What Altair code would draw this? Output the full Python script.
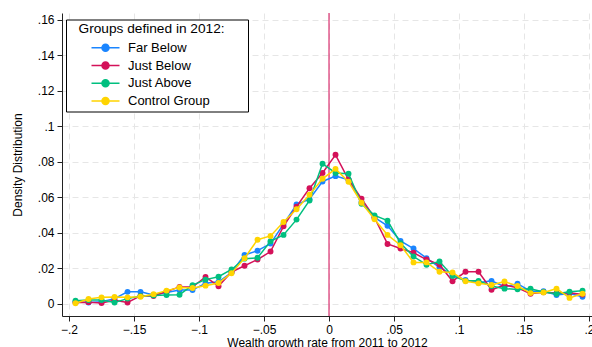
import altair as alt
import pandas as pd

# Bin centers of wealth growth rate (bins of width .01)
bins = [round(-0.195 + 0.01 * i, 3) for i in range(40)]
groups = ["Far Below", "Just Below", "Just Above", "Control Group"]
colors = ["#1a85ff", "#d41159", "#00bf7f", "#ffd400"]

far_below = [0.0012, 0.0008, 0.0012, 0.0030, 0.0068, 0.0068, 0.0050, 0.0065, 0.0078, 0.0078,
             0.0117, 0.0125, 0.0177, 0.0276, 0.0300, 0.0340, 0.0450, 0.0560, 0.0590, 0.0690,
             0.0720, 0.0700, 0.0574, 0.0488, 0.0440, 0.0355, 0.0312, 0.0258, 0.0206, 0.0165,
             0.0135, 0.0120, 0.0130, 0.0097, 0.0114, 0.0072, 0.0072, 0.0050, 0.0059, 0.0040]
just_below = [0.0008, 0.0010, 0.0005, 0.0020, 0.0008, 0.0045, 0.0045, 0.0070, 0.0096, 0.0095,
              0.0152, 0.0100, 0.0180, 0.0215, 0.0250, 0.0295, 0.0437, 0.0548, 0.0652, 0.0738,
              0.0840, 0.0701, 0.0593, 0.0486, 0.0338, 0.0312, 0.0288, 0.0250, 0.0221, 0.0128,
              0.0181, 0.0181, 0.0080, 0.0107, 0.0091, 0.0057, 0.0066, 0.0061, 0.0063, 0.0053]
just_above = [0.0018, 0.0022, 0.0022, 0.0008, 0.0030, 0.0045, 0.0048, 0.0050, 0.0052, 0.0106,
              0.0137, 0.0153, 0.0194, 0.0255, 0.0260, 0.0353, 0.0389, 0.0475, 0.0583, 0.0790,
              0.0738, 0.0733, 0.0564, 0.0499, 0.0469, 0.0342, 0.0267, 0.0221, 0.0239, 0.0158,
              0.0130, 0.0130, 0.0101, 0.0086, 0.0082, 0.0086, 0.0067, 0.0057, 0.0069, 0.0074]
control = [0.0004, 0.0028, 0.0037, 0.0039, 0.0037, 0.0040, 0.0055, 0.0075, 0.0093, 0.0090,
           0.0103, 0.0118, 0.0173, 0.0258, 0.0362, 0.0383, 0.0462, 0.0533, 0.0615, 0.0705,
           0.0761, 0.0688, 0.0570, 0.0477, 0.0389, 0.0331, 0.0234, 0.0234, 0.0181, 0.0177,
           0.0128, 0.0116, 0.0107, 0.0126, 0.0101, 0.0061, 0.0065, 0.0086, 0.0034, 0.0057]

x_ticks = [-0.2, -0.15, -0.1, -0.05, 0, 0.05, 0.1, 0.15, 0.2]
y_ticks = [0, 0.02, 0.04, 0.06, 0.08, 0.1, 0.12, 0.14, 0.16]

series = [far_below, just_below, just_above, control]
rows = []
for g, vals in zip(groups, series):
    for b, v in zip(bins, vals):
        rows.append({"group": g, "x": b, "y": v})
df = pd.DataFrame(rows)

FONT = "Liberation Sans"
label_expr = "datum.value == 0 ? '0' : replace(format(datum.value, '.2~f'), '0.', '.')"

x_scale = alt.Scale(domain=[-0.2054, 0.2023], nice=False, zero=False)
x_enc = alt.X("x:Q", scale=x_scale,
              axis=alt.Axis(values=x_ticks, labelExpr=label_expr,
                            title="Wealth growth rate from 2011 to 2012",
                            titlePadding=2))
y_enc = alt.Y("y:Q",
              scale=alt.Scale(domain=[-0.0068, 0.1639], nice=False, zero=False),
              axis=alt.Axis(values=y_ticks, labelExpr=label_expr,
                            title="Density Distribution", titlePadding=13))

sym_path = ("M-2.8,0H2.8M-0.7,0A0.7,0.7,0,1,1,0.7,0A0.7,0.7,0,1,1,-0.7,0Z")
BL = "\u2800"  # blank spacer glyph

color_enc = alt.Color(
    "group:N",
    scale=alt.Scale(domain=groups, range=colors),
    legend=alt.Legend(
        title=BL + "Groups defined in 2012:" + BL * 2,
        orient="none", legendX=4, legendY=6.5,
        strokeColor="black", fillColor="white", padding=2.5,
        symbolType=sym_path, symbolSize=100, symbolStrokeWidth=1.5,
        symbolOffset=30.5, labelOffset=16, rowPadding=3.8, titlePadding=5.5,
        titleFontSize=13.7, titleFontWeight="normal", titleFont=FONT, titleColor="black",
        labelFontSize=13, labelFont=FONT, labelColor="black",
        symbolOpacity=1,
    ),
)

vline = alt.Chart(pd.DataFrame({"x": [0]})).mark_rule(
    color="#d41159", opacity=0.65, strokeWidth=1.6
).encode(x=alt.X("x:Q", scale=x_scale))

layers = [vline]
for g in groups:
    base = alt.Chart(df).transform_filter(alt.datum.group == g)
    layers.append(base.mark_line(strokeWidth=1.5).encode(x=x_enc, y=y_enc, color=color_enc))
    layers.append(base.mark_point(filled=True, size=35, opacity=1).encode(
        x=x_enc, y=y_enc, color=color_enc))

chart = alt.layer(*layers).properties(
    width=530, height=303,
    padding={"left": 62, "top": 13, "right": 0, "bottom": 31},
    autosize="none",
).configure_view(stroke=None).configure_axis(
    domainColor="#222", tickColor="#222", tickSize=5, domainWidth=1,
    labelFont=FONT, labelFontSize=12, labelColor="black", labelPadding=3,
    titleFont=FONT, titleFontSize=12, titleFontWeight="normal", titleColor="black",
    grid=True, gridColor="#e6e6e6", gridDash=[6, 4], gridWidth=1,
).configure_axisY(labelAngle=0)

chart.save("out.html", embed_options={"renderer": "svg", "actions": False})
